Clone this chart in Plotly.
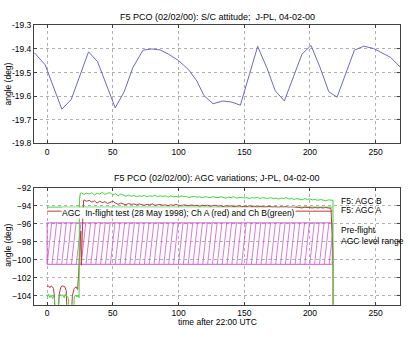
import numpy as np
import plotly.graph_objects as go

# ---------------- S/C attitude (top panel) ----------------
att_t = [-9.7, -1.5, 11.2, 18.3, 31.5, 38.3, 51.8, 58.6, 65.3, 72.9, 79.7, 86.0,
         92.4, 100.0, 107.7, 114.0, 119.3, 126.2, 133.8, 140.6, 147.0, 160.2,
         167.3, 173.6, 180.5, 193.9, 200.8, 207.4, 214.3, 220.6, 233.8, 240.9,
         248.5, 254.8, 261.2, 268.8]
att_deg = [-19.416, -19.467, -19.655, -19.614, -19.412, -19.453, -19.649, -19.581,
           -19.478, -19.405, -19.400, -19.404, -19.422, -19.449, -19.488, -19.536,
           -19.597, -19.632, -19.620, -19.625, -19.638, -19.389, -19.481, -19.577,
           -19.620, -19.422, -19.385, -19.474, -19.581, -19.604, -19.405, -19.388,
           -19.398, -19.416, -19.435, -19.477]

# ---------------- AGC traces (bottom panel) ----------------
agc_b_t = [0, 1, 2, 3, 4, 5, 5.6, 6.2, 8.4, 8.8, 10, 11, 12, 13, 14, 15, 16.2, 16.8,
           20.2, 20.6, 21.5, 22.5, 23.5, 24.3, 24.6, 25.3]
agc_b = [-104.1, -103.8, -104.2, -103.9, -104.3, -104.0, -104.4, -106, -106, -104.3,
         -103.8, -104.0, -103.9, -104.2, -103.8, -104.1, -104.3, -106, -106, -104.2,
         -103.9, -104.1, -104.0, -104.2, -93.2, -92.6]
agc_b_t += list(range(26, 218, 2)) + [217.5, 217.6]
agc_b += [-92.55, -92.75, -92.6, -92.7, -92.55, -92.8, -92.6, -92.7, -92.5, -92.75,
          -92.6, -92.55, -92.8, -92.65, -92.9, -92.7, -92.85, -92.95, -92.8, -92.95,
          -92.85, -93.0, -92.9, -92.95, -92.85, -93.0, -92.9, -92.95, -92.85, -93.0,
          -92.9, -92.95, -92.9, -93.05, -92.9, -93.0, -92.95, -93.05, -92.9, -93.0,
          -92.95, -93.1, -93.0, -92.95, -93.05, -93.0, -93.1, -93.0, -93.05, -93.1,
          -93.0, -93.05, -93.1, -93.0, -93.1, -93.15, -93.05, -93.1, -93.0, -93.15,
          -93.1, -93.05, -93.15, -93.1, -93.2, -93.1, -93.15, -93.05, -93.2, -93.1,
          -93.15, -93.2, -93.1, -93.2, -93.15, -93.25, -93.15, -93.2, -93.1, -93.25,
          -93.2, -93.3, -93.2, -93.25, -93.35, -93.2, -93.3, -93.25, -93.35, -93.3,
          -93.4, -93.3, -93.35, -93.45, -93.35, -93.4,
          -93.4, -106]

agc_a_t = [0, 1, 2, 3, 4, 4.8, 5.5, 6.0, 8.5, 9.2, 10.5, 12, 13.5, 14.5, 15.2, 18.5,
           19.2, 20.5, 22, 23.2, 24.2, 25.0, 25.6, 26.0, 26.4, 26.8, 27.3, 27.8]
agc_a = [-103.0, -102.9, -103.1, -102.9, -103.0, -103.2, -104.0, -106, -106, -103.8,
         -103.0, -102.9, -103.0, -103.4, -106, -106, -104.0, -103.2, -103.0, -103.3,
         -101.0, -97.0, -96.8, -100.6, -97.5, -96.3, -94.5, -93.4]
agc_a_t += list(range(28, 218, 2)) + [217.5, 217.6]
agc_a += [-93.35, -93.5, -93.4, -93.6, -93.45, -93.7, -93.5, -93.65, -93.55, -93.75,
          -93.6, -93.5, -93.7, -93.85, -93.7, -93.8, -93.9, -93.75, -93.85, -93.8,
          -93.9, -93.8, -93.85, -93.95, -93.85, -93.9, -93.8, -93.95, -93.9, -93.85,
          -93.95, -93.9, -94.0, -93.9, -93.95, -93.85, -93.95, -94.0, -93.9, -93.95,
          -94.0, -93.9, -94.0, -93.95, -94.05, -93.95, -94.0, -93.95, -94.05, -94.0,
          -93.95, -94.05, -94.0, -94.1, -94.0, -94.05, -94.0, -94.1, -94.05, -94.0,
          -94.1, -94.05, -94.1, -94.0, -94.1, -94.05, -94.15, -94.05, -94.1, -94.15,
          -94.05, -94.1, -94.15, -94.1, -94.2, -94.1, -94.15, -94.1, -94.2, -94.15,
          -94.2, -94.15, -94.2, -94.25, -94.15, -94.2, -94.2, -94.25, -94.2, -94.25,
          -94.2, -94.25, -94.2, -94.25, -94.3,
          -99.3, -106]

# In-flight test reference levels and the pre-flight AGC range
test_t = [0, 217]
test_b = -94.15
test_a = -94.6
range_t = [0, 217]
range_hi = -95.9
range_lo = -100.5

ATT_TICKS = [-19.3, -19.4, -19.5, -19.6, -19.7, -19.8]
AGC_TICKS = [-92, -94, -96, -98, -100, -102, -104]
T_TICKS = [0, 50, 100, 150, 200, 250]

W, H = 410, 338
FONT = "Liberation Sans, Arial, sans-serif"
BLUE = "#6a6ac0"
GREEN = "#3fd63f"
RED = "#c0393b"
MAG = "#d058d0"


def px_x(p):
    return p / W


def px_y(p):
    return 1 - p / H


fig = go.Figure()

fig.add_trace(go.Scatter(x=att_t, y=att_deg, mode="lines",
                         line=dict(color=BLUE, width=1), xaxis="x", yaxis="y"))

# hatch for the pre-flight range: slanted strokes across the band
step, slant = 3.7, 3.5
hx, hy = [], []
for s in np.arange(range_t[0], range_t[1], step):
    x0, x1 = s, s + slant
    y0, y1 = range_lo, range_hi
    if x1 > range_t[1]:
        frac = (range_t[1] - x0) / slant
        x1 = range_t[1]
        y1 = range_lo + frac * (range_hi - range_lo)
    hx += [x0, x1, None]
    hy += [y0, y1, None]
fig.add_trace(go.Scatter(x=hx, y=hy, mode="lines", line=dict(color=MAG, width=0.8),
                         xaxis="x2", yaxis="y2"))
fig.add_trace(go.Scatter(
    x=[range_t[0], range_t[1], range_t[1], range_t[0], range_t[0]],
    y=[range_lo, range_lo, range_hi, range_hi, range_lo],
    mode="lines", line=dict(color=MAG, width=1), xaxis="x2", yaxis="y2"))

fig.add_trace(go.Scatter(x=test_t, y=[test_b, test_b], mode="lines",
                         line=dict(color=GREEN, width=1), xaxis="x2", yaxis="y2"))
fig.add_trace(go.Scatter(x=test_t, y=[test_a, test_a], mode="lines",
                         line=dict(color=RED, width=1), xaxis="x2", yaxis="y2"))
fig.add_trace(go.Scatter(x=agc_a_t, y=agc_a, mode="lines",
                         line=dict(color=RED, width=1), xaxis="x2", yaxis="y2"))
fig.add_trace(go.Scatter(x=agc_b_t, y=agc_b, mode="lines",
                         line=dict(color=GREEN, width=1), xaxis="x2", yaxis="y2"))

axis_common = dict(showline=True, mirror="ticks", linecolor="#404040", linewidth=1,
                   ticks="inside", ticklen=3, tickcolor="#404040",
                   showgrid=True, gridcolor="#b0b0b0", griddash="dot", gridwidth=1,
                   zeroline=False, tickfont=dict(family=FONT, size=8.5, color="#000"))

xdom = [px_x(34), px_x(400)]
fig.update_layout(
    width=W, height=H, margin=dict(l=0, r=0, t=0, b=0),
    paper_bgcolor="white", plot_bgcolor="white", showlegend=False,
    xaxis=dict(domain=xdom, range=[-10, 268.5], tickvals=T_TICKS, anchor="y",
               **axis_common),
    yaxis=dict(domain=[px_y(142.7), px_y(21)], range=[-19.8, -19.3],
               tickvals=ATT_TICKS, ticktext=[f"{v:.1f}" for v in ATT_TICKS],
               anchor="x", **axis_common),
    xaxis2=dict(domain=xdom, range=[-10, 268.5], tickvals=T_TICKS, anchor="y2",
                **axis_common),
    yaxis2=dict(domain=[px_y(309), px_y(188.3)], range=[-105, -92],
                tickvals=AGC_TICKS, anchor="x2", **axis_common),
)

ttl = dict(family=FONT, size=9, color="#000")
txt = dict(family=FONT, size=8.5, color="#000")
centre = dict(xref="paper", yref="paper", xanchor="center", yanchor="middle",
              showarrow=False)
ann = [
    dict(text="F5 PCO (02/02/00): S/C attitude;  J-PL, 04-02-00",
         x=px_x(217), y=px_y(12), font=ttl, **centre),
    dict(text="F5 PCO (02/02/00): AGC variations; J-PL, 04-02-00",
         x=px_x(217), y=px_y(178), font=ttl, **centre),
    dict(text="angle (deg)", x=px_x(8), y=px_y(82), textangle=-90, font=txt,
         **centre),
    dict(text="angle (deg)", x=px_x(8), y=px_y(248), textangle=-90, font=txt,
         **centre),
    dict(text="time after 22:00 UTC", x=px_x(217), y=px_y(327), font=txt,
         **centre),
    dict(text="AGC  In-flight test (28 May 1998); Ch A (red) and Ch B(green)",
         xref="x2", yref="y2", x=10.5, y=-94.85, xanchor="left", yanchor="middle",
         showarrow=False, font=txt, bgcolor="white", borderpad=0),
    dict(text="F5: AGC B", xref="x2", yref="y2", x=222, y=-93.45, xanchor="left",
         yanchor="middle", showarrow=False, font=txt),
    dict(text="F5: AGC A", xref="x2", yref="y2", x=222, y=-94.45, xanchor="left",
         yanchor="middle", showarrow=False, font=txt),
    dict(text="Pre-flight<br>AGC level range", xref="x2", yref="y2", x=222, y=-97.3,
         xanchor="left", yanchor="middle", align="left", showarrow=False, font=txt),
]
fig.update_layout(annotations=ann)

fig.write_html("out.html")
